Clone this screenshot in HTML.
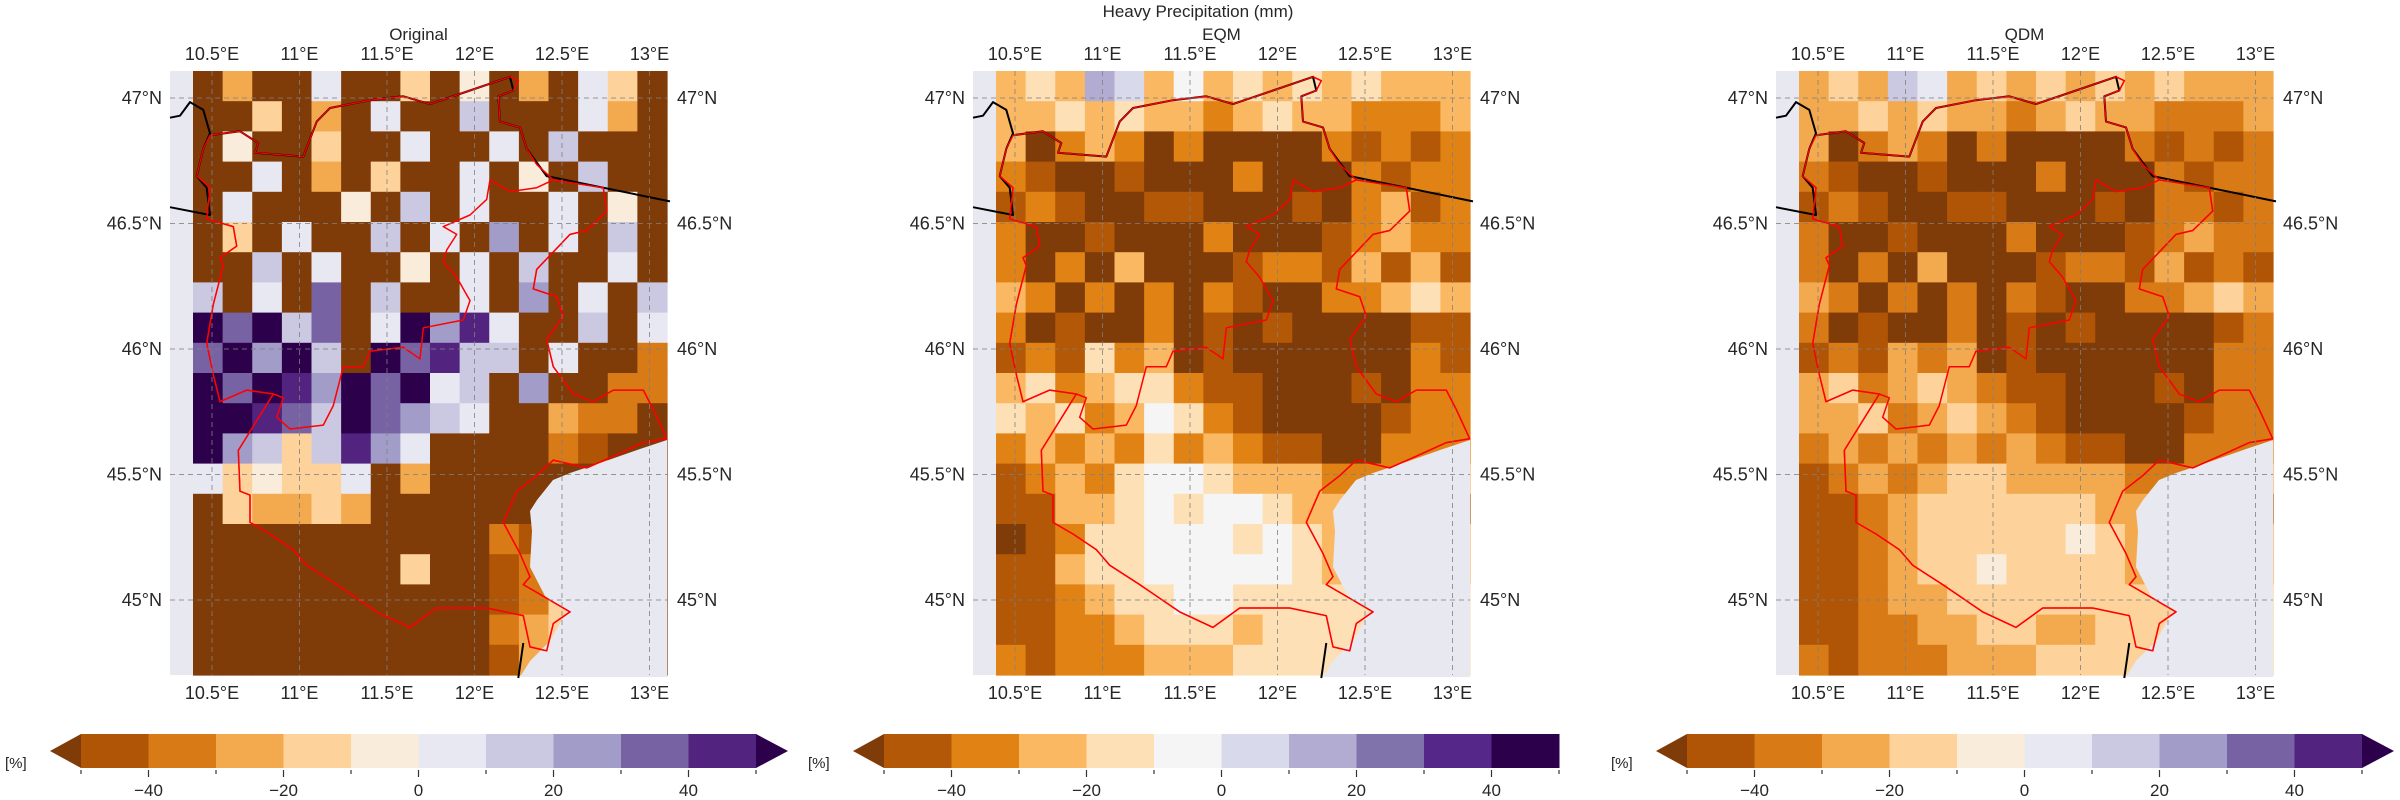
<!DOCTYPE html>
<html><head><meta charset="utf-8"><style>
html,body{margin:0;padding:0;background:#fff;}
svg{display:block;font-family:"Liberation Sans","DejaVu Sans",sans-serif;}
</style></head><body>
<svg id="fig" width="2400" height="800" viewBox="0 0 2400 800" xmlns="http://www.w3.org/2000/svg">
<text x="1198" y="17" text-anchor="middle" font-size="17" fill="#262626">Heavy Precipitation (mm)</text>
</svg>
<script>
const panelTitles = ["Original","EQM","QDM"];
const lonTicks = [10.5,11,11.5,12,12.5,13];
const lonLabels = ["10.5°E","11°E","11.5°E","12°E","12.5°E","13°E"];
const latTicks = [47,46.5,46,45.5,45];
const latLabels = ["47°N","46.5°N","46°N","45.5°N","45°N"];
const cbEdges = [-50,-40,-30,-20,-10,0,10,20,30,40,50];
const cbTickLabels = [-40,-20,0,20,40];
const palA = ["#7f3b08","#b05505","#d87a16","#f3aa4f","#fdd39b","#faecdb","#e8e8f2","#cbc8e2","#a29cc8","#7763a3","#52237f","#2d004b"];
const palB = ["#7f3b08","#b35806","#e08214","#fbb863","#fde0b6","#f5f5f5","#d8daeb","#b2abd2","#8073ac","#542788","#2d004b","#2d004b"];
const gridOriginal = [
"0300600405030640","0040306007000630","0500400600607000","0060304006050700",
"0600050706006050","0406007060806070","0070600506070060","7060907006080607",
"b9b7906b8a600706","9b8b70b9a7706002","b9ba8b9b67080022","bba97b9876003220",
"b8747a8600002100","6454460300000000","0433430000000000","0000000000210000",
"0000000400123000","0000000000124000","0000000000234000","0000000000134000"];
const gridEQM = [
"3437635343434333","3343433234332223","3023202000021212","2100100020002122",
"1210011000102312","2001000200012322","2020300012213131","3202020210022343",
"2010020101000011","1214230100000021","3423442110001022","4342354210000122",
"2323242321100222","1232455433322223","1133454554332221","0124455545433333",
"1134455555434443","1123445544444444","1122344434444444","2122233344444444"];
const gridQDM = [
"3437634343434333","3343433234332223","3023202000021212","2100100020002122",
"1210011000102212","2001000200012322","2020300012213121","3202020210022343",
"2010020101000012","1213230100000022","3423432110001022","3342343210000122",
"2323232321100222","1232344333322223","1123444444332221","1123444445433333",
"1123445444434443","1123344444444444","1122334433444444","2122233344444444"];
const grids = [gridOriginal, gridEQM, gridQDM];
const pals = [palA, palB, palA];

const NS = "http://www.w3.org/2000/svg";
const svg = document.getElementById("fig");
function mk(tag, attrs, parent){const e=document.createElementNS(NS,tag);for(const k in attrs)e.setAttribute(k,attrs[k]);(parent||svg).appendChild(e);return e;}

const MAPW=497, MAPH=604, TOP=71;
// geography outlines (zoom coords, scaled to map px)
const redOuter=[[120,165],[210,155],[265,185],[255,210],[400,220],[440,130],[480,95],[600,75],[700,65],[780,85],[900,50],[1020,15],[1045,25],[1030,50],[985,65],[990,130],[1050,145],[1070,200],[1100,240],[1150,280],[1300,300],[1310,360],[1250,410],[1200,420],[1100,510],[1090,560],[1160,580],[1180,630],[1130,690],[1150,760],[1210,830],[1270,850],[1330,820],[1420,820],[1450,870],[1490,945],[1420,955],[1330,990],[1250,1020],[1150,1000],[1100,1040],[1040,1080],[1000,1160],[1050,1240],[1080,1300],[1060,1320],[1100,1340],[1200,1390],[1150,1420],[1130,1490],[1080,1480],[1060,1400],[950,1380],[800,1380],[720,1430],[620,1390],[500,1320],[410,1270],[370,1230],[300,1190],[240,1160],[240,1090],[210,1080],[205,975],[310,830],[230,820],[150,850],[130,780],[110,700],[130,600],[160,500],[150,480],[200,450],[190,400],[110,380],[120,300],[80,270],[100,200],[120,165]];
const redInner=[[310,830],[340,840],[320,890],[360,920],[460,910],[490,860],[520,760],[580,760],[600,720],[700,710],[750,740],[760,660],[880,640],[900,590],[860,530],[820,490],[830,460],[860,420],[820,400],[900,370],[950,330],[960,280],[1020,310],[1100,300],[1150,280]];
const blackA=[[0,120],[30,115],[60,80],[100,100],[120,160],[100,200],[80,270],[110,300],[120,370],[0,350]];
const blackB=[[120,165],[210,155],[265,185],[255,210],[400,220],[440,130],[480,95],[600,75],[700,65],[780,85],[900,50],[1020,15],[1030,50],[985,65],[990,130],[1050,145],[1070,200],[1130,270],[1300,300],[1500,335]];
const blackC=[[1060,1470],[1045,1560]];
const sea=[[497,369],[470,378],[430,392],[400,402],[383,409],[367,429],[360,440],[362,460],[360,496],[375,525],[390,536],[397,540],[380,570],[360,590],[350,606],[497,606]];

function pstr(pts,ox,oy,zoom){return pts.map(p=>zoom?[(ox+p[0]/3).toFixed(1),(oy+p[1]/2.57).toFixed(1)]:[ox+p[0],oy+p[1]]).map(p=>p.join(",")).join(" ");}

for(let i=0;i<3;i++){
  const L=170+803*i;
  const g=mk("g",{});
  
  
  const bg=mk("rect",{x:L,y:TOP,width:MAPW,height:MAPH,fill:"#e8e8f1"},g);
  
  
  const xScale=lon=>L+42+(lon-10.5)*175;
  const yScale=lat=>98+(47-lat)*251;
  const grid=grids[i], pal=pals[i];
  const cw=(MAPW-23)/16, ch=MAPH/20;
  for(let r=0;r<grid.length;r++){
    for(let c=0;c<grid[r].length;c++){
      const v=parseInt(grid[r][c],16);
      const cell=mk("rect",{x:(L+23+c*cw).toFixed(2),y:(TOP+r*ch).toFixed(2),width:(cw+0.6).toFixed(2),height:(ch+0.6).toFixed(2),fill:pal[v]},g);
      
      
    }
  }
  const s=mk("polygon",{points:pstr(sea,L,TOP,false),fill:"#e8e8f1"},g);
  
  
  // borders
  [[redOuter,"#ff0000",1.5,"region-border"],[redInner,"#ff0000",1.5,"region-border-inner"],[blackA,"#000",2,"country-border"],[blackB,"#000",2,"country-border"],[blackC,"#000",2,"coastline"]].forEach(b=>{
    const pl=mk("polyline",{points:pstr(b[0],L,TOP,true),fill:"none",stroke:b[1],"stroke-width":b[2],"stroke-linejoin":"round"},g);
    
    
  });
  // redraw red on top of black
  const ro=mk("polyline",{points:pstr(redOuter,L,TOP,true),fill:"none",stroke:"#ff0000","stroke-width":1.3},g);
  
  
  // gridlines & labels
  lonTicks.forEach((lon,k)=>{
    const x=xScale(lon);
    const gl=mk("line",{x1:x,x2:x,y1:TOP,y2:TOP+MAPH,stroke:"#808080","stroke-width":1,"stroke-dasharray":"5,4","stroke-opacity":0.8},g);
    
    
    const t1=mk("text",{x:x,y:60,"text-anchor":"middle","font-size":18,fill:"#262626"},g);
    t1.textContent=lonLabels[k];
    
    
    const t2=mk("text",{x:x,y:699,"text-anchor":"middle","font-size":18,fill:"#262626"},g);
    t2.textContent=lonLabels[k];
    
    
  });
  latTicks.forEach((lat,k)=>{
    const y=yScale(lat);
    const gl=mk("line",{x1:L,x2:L+MAPW,y1:y,y2:y,stroke:"#808080","stroke-width":1,"stroke-dasharray":"5,4","stroke-opacity":0.8},g);
    
    
    const t1=mk("text",{x:L-8,y:y+6,"text-anchor":"end","font-size":18,fill:"#262626"},g);
    t1.textContent=latLabels[k];
    
    
    const t2=mk("text",{x:L+MAPW+10,y:y+6,"text-anchor":"start","font-size":18,fill:"#262626"},g);
    t2.textContent=latLabels[k];
    
    
  });
  const st=mk("text",{x:L+MAPW/2,y:40,"text-anchor":"middle","font-size":17,fill:"#262626"},g);
  st.textContent=panelTitles[i];
  
  

  // colorbar
  const cb=mk("g",{});
  
  
  const cx0=81+803*i, cx1=756+803*i, cy0=734, cy1=768;
  const cbx=v=>cx0+(v+50)/100*(cx1-cx0);
  for(let b=0;b<10;b++){
    const rr=mk("rect",{x:cbx(cbEdges[b]),y:cy0,width:cbx(cbEdges[b+1])-cbx(cbEdges[b])+0.5,height:cy1-cy0,fill:pal[b+1]},cb);
    
    
  }
  const lt=mk("polygon",{points:`${cx0},${cy0} ${cx0-31},${(cy0+cy1)/2} ${cx0},${cy1}`,fill:pal[0]},cb);
  
  
  if(i!==1){
    const rt=mk("polygon",{points:`${cx1},${cy0} ${cx1+32},${(cy0+cy1)/2} ${cx1},${cy1}`,fill:pal[11]},cb);
    
    
  }
  cbEdges.forEach(v=>{
    const tk=mk("line",{x1:cbx(v),x2:cbx(v),y1:cy1+2,y2:cy1+(v%20===0&&Math.abs(v)<50?9:6),stroke:"#333","stroke-width":1.2},cb);
    
    
  });
  cbTickLabels.forEach(v=>{
    const tl=mk("text",{x:cbx(v),y:796,"text-anchor":"middle","font-size":17,fill:"#262626"},cb);
    tl.textContent=(v<0?"\u2212"+Math.abs(v):String(v));
    
    
  });
  const un=mk("text",{x:5+803*i,y:768,"font-size":15,fill:"#262626"},cb);
  un.textContent="[%]";
  
  
}
</script>
</body></html>
